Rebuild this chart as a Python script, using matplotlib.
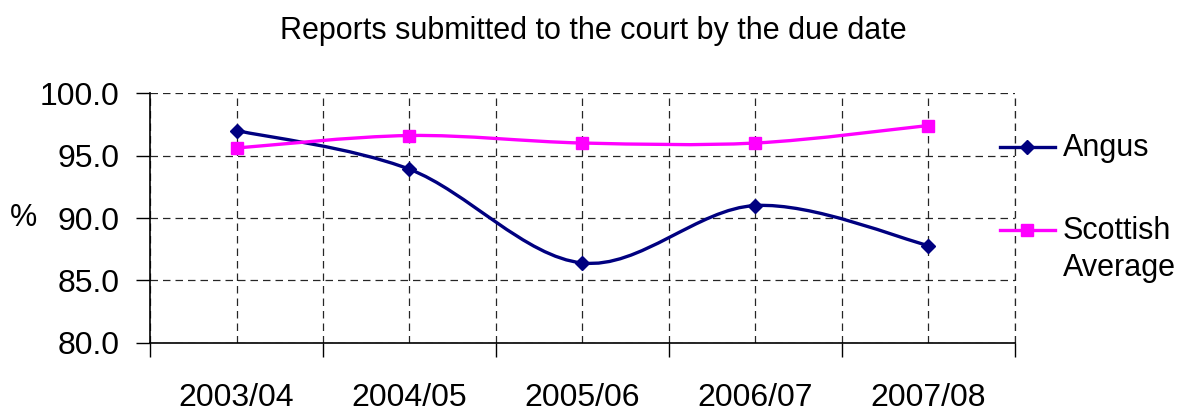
import numpy as np
import matplotlib
matplotlib.use("Agg")
from matplotlib import pyplot as plt
from matplotlib.path import Path
from matplotlib.patches import PathPatch
from matplotlib.lines import Line2D

plt.rcParams['font.family'] = ['Liberation Sans', 'DejaVu Sans']

years = ["2003/04", "2004/05", "2005/06", "2006/07", "2007/08"]
angus = [97.0, 93.9, 86.4, 91.0, 87.8]
scottish = [95.6, 96.6, 96.0, 96.0, 97.4]

NAVY = "#000080"
MAGENTA = "#FF00FF"


def smooth_path(xs, ys):
    # bezier curve through the points, like the spreadsheet "smoothed line"
    p = np.column_stack([xs, ys]).astype(float)
    n = len(p)
    verts = [p[0]]
    codes = [Path.MOVETO]
    for i in range(n - 1):
        p0 = p[i - 1] if i > 0 else p[i]
        p3 = p[i + 2] if i + 2 < n else p[i + 1]
        c1 = p[i] + (p[i + 1] - p0) / 6
        c2 = p[i + 1] - (p3 - p[i]) / 6
        verts += [c1, c2, p[i + 1]]
        codes += [Path.CURVE4] * 3
    return Path(verts, codes)


fig = plt.figure(figsize=(11.87, 4.16), dpi=100)
ax = fig.add_axes([0.1264, 0.1755, 0.855 - 0.1264, 0.7764 - 0.1755])

x = np.arange(len(years))
for vals, col, mk, ms in [(angus, NAVY, "D", 7.5), (scottish, MAGENTA, "s", 8.5)]:
    ax.add_patch(PathPatch(smooth_path(x, vals), fill=False, edgecolor=col, lw=2.4, zorder=3))
    ax.plot(x, vals, ls="none", marker=mk, ms=ms, color=col, zorder=4)

ax.set_xlim(-0.5, len(years) - 0.5)
ax.set_ylim(80, 100)
ax.set_yticks(np.arange(80, 100.1, 5))
ax.set_yticklabels([f"{v:.1f}" for v in np.arange(80, 100.1, 5)])
ax.set_xticks(x)
ax.set_xticklabels(years)
ax.set_xticks(np.arange(-0.5, len(years), 1), minor=True)

ax.tick_params(axis="y", labelsize=23, length=10, width=1, pad=12, direction="out")
ax.tick_params(axis="x", which="major", labelsize=23, length=0, pad=29)
ax.tick_params(axis="x", which="minor", length=10, width=1, direction="out")

ax.grid(True, which="both", color="black", ls=(0, (6, 4)), lw=0.9, alpha=0.85)
ax.grid(False, axis="y", which="minor")
# dashed right edge of the plot area
ax.axvline(len(years) - 0.5, color="black", ls=(0, (6, 4)), lw=0.9, alpha=0.85, clip_on=False)
ax.set_axisbelow(True)
for s in ["top", "right"]:
    ax.spines[s].set_visible(False)
ax.spines["left"].set_linewidth(1.2)
ax.spines["bottom"].set_linewidth(1.2)

fig.text(0.5, 0.925, "Reports submitted to the court by the due date", ha="center",
         va="center", fontsize=22)
fig.text(0.02, 0.475, "%", ha="center", va="center", fontsize=22)

# legend drawn by hand so the handle sits at the first line of the label
for yl, col, mk, ms, label in [(0.6466, NAVY, "D", 7.5, "Angus"),
                               (0.447, MAGENTA, "s", 8.5, "Scottish\nAverage")]:
    fig.add_artist(Line2D([0.8425, 0.8888], [yl, yl], color=col, lw=2.4,
                          transform=fig.transFigure))
    fig.add_artist(Line2D([0.8656], [yl], color=col, marker=mk, ms=ms,
                          transform=fig.transFigure))
    fig.text(0.8955, yl + 0.034, label, ha="left", va="top", fontsize=22,
             linespacing=1.3)

fig.savefig("out.png", dpi=100)
